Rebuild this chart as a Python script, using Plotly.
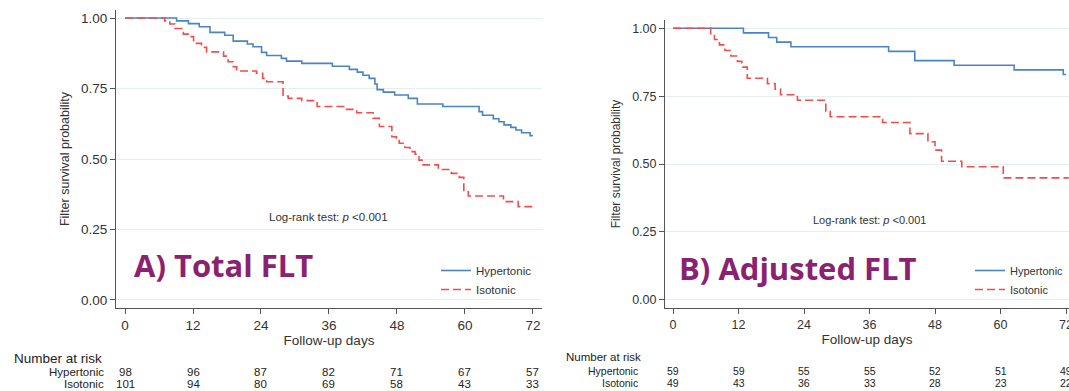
import plotly.graph_objects as go

# ---------------- data ----------------
# Panel A: Total FLT
total_hyper_t = [0, 9.1, 11.2, 13.1, 15.0, 17.6, 19.1, 21.6, 22.6, 24.1, 25.0, 27.6, 28.5, 31.2,
                 36.6, 39.6, 41.0, 42.0, 43.1, 44.1, 44.5, 45.6, 47.6, 50.0, 51.6, 56.1, 62.5,
                 63.1, 65.0, 66.0, 66.9, 68.1, 69.0, 70.0, 71.5, 72]
total_hyper_s = [1.0, 0.990, 0.980, 0.969, 0.949, 0.939, 0.918, 0.908, 0.898, 0.878, 0.867, 0.857,
                 0.847, 0.839, 0.829, 0.818, 0.808, 0.797, 0.786, 0.766, 0.746, 0.737, 0.727, 0.715,
                 0.695, 0.686, 0.668, 0.655, 0.643, 0.632, 0.621, 0.612, 0.603, 0.593, 0.583, 0.583]
total_iso_t = [0, 7.0, 7.9, 8.8, 10.3, 11.5, 12.1, 13.5, 14.4, 17.4, 18.2, 19.1, 19.7, 23.2, 24.3,
               25.0, 27.9, 28.8, 31.2, 33.9, 38.8, 40.9, 43.8, 44.9, 47.1, 47.9, 48.4, 49.4, 50.3,
               51.2, 51.9, 52.6, 55.3, 57.6, 59.0, 59.8, 60.6, 66.8, 69.4, 72]
total_iso_s = [1.0, 0.990, 0.979, 0.963, 0.943, 0.934, 0.910, 0.896, 0.880, 0.865, 0.845, 0.827,
               0.812, 0.804, 0.786, 0.774, 0.723, 0.715, 0.707, 0.686, 0.676, 0.664, 0.644, 0.615,
               0.579, 0.573, 0.556, 0.541, 0.526, 0.517, 0.496, 0.479, 0.463, 0.449, 0.435, 0.384,
               0.369, 0.349, 0.331, 0.331]

# Panel B: Adjusted FLT
adj_hyper_t = [0, 12.9, 17.5, 19.0, 21.6, 39.5, 44.3, 51.5, 62.5, 71.5, 72]
adj_hyper_s = [1.0, 0.983, 0.966, 0.949, 0.932, 0.915, 0.881, 0.864, 0.847, 0.830, 0.830]
adj_iso_t = [0, 6.9, 7.6, 8.5, 9.5, 10.6, 11.8, 12.6, 13.6, 17.3, 18.7, 19.7, 22.8, 28.0, 28.8,
             38.4, 43.4, 46.7, 48.0, 49.2, 52.9, 60.5, 72.5]
adj_iso_s = [1.0, 0.980, 0.959, 0.939, 0.918, 0.898, 0.878, 0.857, 0.816, 0.796, 0.776, 0.755,
             0.735, 0.694, 0.674, 0.653, 0.612, 0.582, 0.551, 0.510, 0.490, 0.449, 0.449]

# Number at risk tables
risk_times = [0, 12, 24, 36, 48, 60, 72]
total_risk_hyper = [98, 96, 87, 82, 71, 67, 57]
total_risk_iso = [101, 94, 80, 69, 58, 43, 33]
adj_risk_hyper = [59, 59, 55, 55, 52, 51, 49]
adj_risk_iso = [49, 43, 36, 33, 28, 23, 22]

x_ticks = [0, 12, 24, 36, 48, 60, 72]
y_ticks = [0, 0.25, 0.5, 0.75, 1.0]
group_names = ["Hypertonic", "Isotonic"]

# ---------------- styling ----------------
W, H = 1069, 391
FONT = "Liberation Sans, Arial, sans-serif"
TXT = "#333333"
AX = "#555555"
GRID = "#E6EFF0"
BLUE = "#4A84C4"
RED = "#F04E4E"
PURPLE = "#8B2270"


def px(x):
    return x / W


def py(y):
    return 1 - y / H


fig = go.Figure()

fig.add_trace(go.Scatter(x=total_hyper_t, y=total_hyper_s, mode="lines", name=group_names[0],
                         line=dict(color=BLUE, width=1.6, shape="hv"),
                         xaxis="x", yaxis="y", legend="legend"))
fig.add_trace(go.Scatter(x=total_iso_t, y=total_iso_s, mode="lines", name=group_names[1],
                         line=dict(color=RED, width=1.6, shape="hv", dash="8px,4px"),
                         xaxis="x", yaxis="y", legend="legend"))
fig.add_trace(go.Scatter(x=adj_hyper_t, y=adj_hyper_s, mode="lines", name=group_names[0],
                         line=dict(color=BLUE, width=1.6, shape="hv"),
                         xaxis="x2", yaxis="y2", legend="legend2"))
fig.add_trace(go.Scatter(x=adj_iso_t, y=adj_iso_s, mode="lines", name=group_names[1],
                         line=dict(color=RED, width=1.6, shape="hv", dash="8px,4px"),
                         xaxis="x2", yaxis="y2", legend="legend2"))


def xaxis_cfg(domain, rng, anchor, fsize):
    return dict(domain=domain, range=rng, anchor=anchor, tickvals=x_ticks,
                ticks="outside", ticklen=5, tickcolor=AX, showline=True, linecolor=AX,
                linewidth=1, showgrid=False, zeroline=False,
                tickfont=dict(size=fsize, color=TXT, family=FONT),
                ticklabeloverflow="allow",
                title=dict(text="Follow-up days", font=dict(size=13.5, color=TXT, family=FONT),
                           standoff=2),
                automargin=False, fixedrange=True)


def yaxis_cfg(domain, rng, anchor, fsize, tsize):
    return dict(domain=domain, range=rng, anchor=anchor, tickvals=y_ticks, tickformat=".2f",
                ticks="outside", ticklen=5, tickcolor=AX, showline=True, linecolor=AX,
                linewidth=1, showgrid=True, gridcolor=GRID, gridwidth=1, zeroline=False,
                tickfont=dict(size=fsize, color=TXT, family=FONT),
                title=dict(text="Filter survival probability",
                           font=dict(size=tsize, color=TXT, family=FONT), standoff=8),
                automargin=False, fixedrange=True)


annotations = []

# Log-rank text
for xr, yr, fs in [("x", "y", 11.5), ("x2", "y2", 11)]:
    annotations.append(dict(xref=xr, yref=yr, x=36, y=0.295, showarrow=False,
                            text="Log-rank test: <i>p</i> &lt;0.001",
                            font=dict(size=fs, color=TXT, family=FONT),
                            xanchor="center", yanchor="middle"))

# Panel labels
annotations.append(dict(xref="x", yref="y", x=1.2, y=0.125, showarrow=False,
                        text="<b>A) Total FLT</b>", xanchor="left", yanchor="middle",
                        font=dict(size=31, color=PURPLE, family="Open Sans, sans-serif")))
annotations.append(dict(xref="x2", yref="y2", x=0.7, y=0.115, showarrow=False,
                        text="<b>B) Adjusted FLT</b>", xanchor="left", yanchor="middle",
                        font=dict(size=31, color=PURPLE, family="Open Sans, sans-serif")))


# Number at risk tables
def risk_table(xref, head_x, lab_x, y_head, y_h, y_i, hsize, fsize, hyper, iso):
    annotations.append(dict(xref="paper", yref="paper", x=px(head_x), y=py(y_head),
                            text="Number at risk", showarrow=False, xanchor="left",
                            yanchor="middle", font=dict(size=hsize, color="#222222", family=FONT)))
    for name, yy in [(group_names[0], y_h), (group_names[1], y_i)]:
        annotations.append(dict(xref="paper", yref="paper", x=px(lab_x), y=py(yy), text=name,
                                showarrow=False, xanchor="right", yanchor="middle",
                                font=dict(size=fsize, color="#222222", family=FONT)))
    for vals, yy in [(hyper, y_h), (iso, y_i)]:
        for t, v in zip(risk_times, vals):
            annotations.append(dict(xref=xref, yref="paper", x=t, y=py(yy), text=str(v),
                                    showarrow=False, xanchor="center", yanchor="middle",
                                    font=dict(size=fsize, color="#222222", family=FONT)))


risk_table("x", 12, 106, 358, 372, 384, 13.5, 11.5, total_risk_hyper, total_risk_iso)
risk_table("x2", 564, 640, 357, 371, 383, 11.5, 10.5, adj_risk_hyper, adj_risk_iso)

fig.update_layout(
    width=W, height=H,
    margin=dict(l=0, r=0, t=0, b=0),
    paper_bgcolor="white", plot_bgcolor="white",
    font=dict(family=FONT, color=TXT),
    xaxis=xaxis_cfg([px(116), px(542)], [-1.59, 73.6], "y", 13.5),
    yaxis=yaxis_cfg([py(308), py(10)], [-0.0284, 1.0284], "x", 13.5, 12.5),
    xaxis2=xaxis_cfg([px(665), 1.0], [-1.47, 72.55], "y2", 12.5),
    yaxis2=yaxis_cfg([py(308), py(20)], [-0.0306, 1.0306], "x2", 12.5, 12),
    legend=dict(x=px(436), y=py(256), xanchor="left", yanchor="top",
                bgcolor="rgba(0,0,0,0)", font=dict(size=11.5, color=TXT, family=FONT),
                itemwidth=30, tracegroupgap=0),
    legend2=dict(x=px(970), y=py(256), xanchor="left", yanchor="top",
                 bgcolor="rgba(0,0,0,0)", font=dict(size=11, color=TXT, family=FONT),
                 itemwidth=30, tracegroupgap=0),
    annotations=annotations,
    showlegend=True,
)

fig.write_html("out.html",
               config={"displayModeBar": False},
               post_script="document.body.style.margin='0';document.body.style.overflow='hidden';")
